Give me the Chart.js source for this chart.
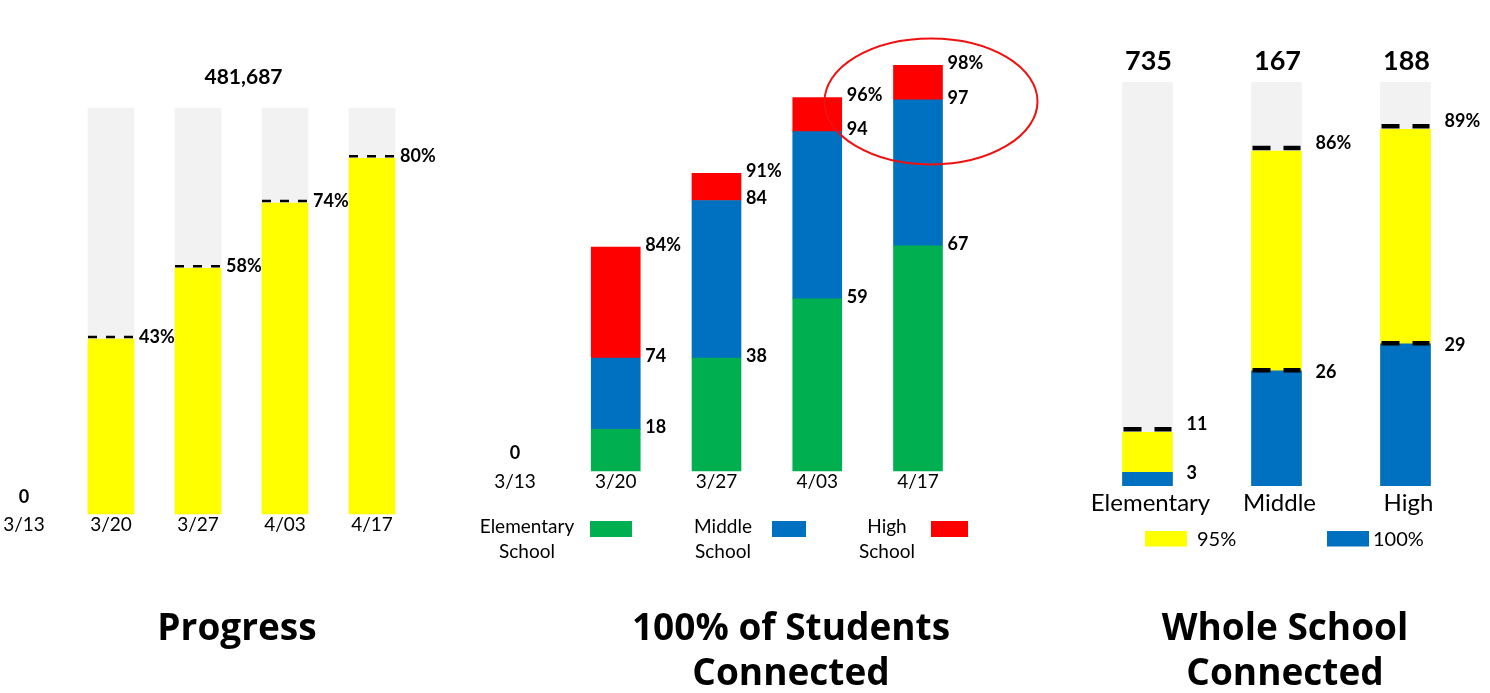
<!DOCTYPE html>
<html>
<head>
<meta charset="utf-8">
<script src="https://cdn.jsdelivr.net/npm/chart.js@4.4.1/dist/chart.umd.min.js"></script>
<style>
  html, body { margin: 0; padding: 0; background: #fff; }
  body { width: 1490px; height: 693px; position: relative; overflow: hidden; }
  canvas.layer { position: absolute; left: 0; top: 0; }
  .title {
    position: absolute; top: 603px; width: 400px; text-align: center;
    font-family: "Open Sans", sans-serif; font-weight: 700; font-size: 37px;
    line-height: 45px; color: #000;
  }
</style>
</head>
<body>
<canvas id="progress" class="layer" width="1490" height="693"></canvas>
<canvas id="students" class="layer" width="1490" height="693"></canvas>
<canvas id="school" class="layer" width="1490" height="693"></canvas>
<div class="title" style="left:37px">Progress</div>
<div class="title" style="left:591px">100% of Students<br>Connected</div>
<div class="title" style="left:1085px">Whole School<br>Connected</div>
<script>
// Progress
const progressDates = ["3/13", "3/20", "3/27", "4/03", "4/17"];
const progressPct = [0, 43, 58, 74, 80];
const progressBar = [0, 43.1, 60.5, 76.6, 87.6]; // bar height as drawn, % of the grey column
const progressTrack = [0, 100, 100, 100, 100];
const progressTotal = "481,687";

// 100% of Students Connected (segment heights as drawn, % of plot height)
const weekDates = ["3/13", "3/20", "3/27", "4/03", "4/17"];
const elementary = [0, 9.9, 26.9, 41.0, 53.6];
const middle = [0, 17.0, 37.5, 39.8, 34.8];
const high = [0, 26.4, 6.5, 8.1, 8.2];
const elementaryLabels = ["0", "18", "38", "59", "67"];
const middleLabels = ["", "74", "84", "94", "97"];
const highLabels = ["", "84%", "91%", "96%", "98%"];

// Whole School Connected
const levels = ["Elementary", "Middle", "High"];
const schoolCounts = [735, 167, 188];
const schoolTrack = [100, 100, 100];
const school95 = [13.3, 82.9, 88.3];
const school100 = [3.4, 28.5, 35.2];
const labels95 = ["11", "86%", "89%"];
const labels100 = ["3", "26", "29"];

const GREY = "#f2f2f2", YELLOW = "#ffff00", GREEN = "#00b050", BLUE = "#0070c0", RED = "#ff0000";

function font(size, weight) {
    return (weight || "normal") + " " + size + "px Lato, sans-serif";
}

// zero bars would still show as a hairline, so paint them transparent
function fillNonZero(color) {
    return (c) => (c.raw ? color : "rgba(0,0,0,0)");
}

function text(ctx, str, x, y, f, align) {
    ctx.font = f;
    ctx.fillStyle = "#000";
    ctx.textAlign = align || "left";
    ctx.textBaseline = "middle";
    ctx.fillText(str, x, y);
}

function dash(ctx, x1, x2, y, width, pattern) {
    ctx.save();
    ctx.beginPath();
    ctx.setLineDash(pattern);
    ctx.lineWidth = width;
    ctx.strokeStyle = "#000";
    ctx.moveTo(x1, y);
    ctx.lineTo(x2, y);
    ctx.stroke();
    ctx.restore();
}

function baseOptions(padding, offset, stacked) {
    return {
        responsive: false,
        animation: false,
        events: [],
        layout: { padding: padding },
        plugins: { legend: { display: false }, tooltip: { enabled: false } },
        scales: {
            x: { display: false, offset: offset, stacked: stacked },
            y: { display: false, min: 0, max: 100, stacked: stacked },
        },
    };
}

// ---------- Progress ----------
const progressPlugin = {
    id: "progressLabels",
    afterDatasetsDraw(chart) {
        const { ctx, scales: { x, y } } = chart;
        const bars = chart.getDatasetMeta(1).data;
        ctx.save();
        bars.forEach((bar, i) => {
            const cx = x.getPixelForValue(i);
            if (progressPct[i] === 0) {
                text(ctx, "0", cx, y.bottom - 17, font(18, "bold"), "center");
            } else {
                const right = bar.x + bar.width / 2;
                const top = bar.y - 2;
                dash(ctx, bar.x - bar.width / 2, right + 2, top, 2.5, [9, 9]);
                text(ctx, progressPct[i] + "%", right + 5, top, font(18, "bold"));
            }
            text(ctx, progressDates[i], cx, y.bottom + 11, font(19), "center");
        });
        const mid = (x.getPixelForValue(2) + x.getPixelForValue(3)) / 2;
        text(ctx, progressTotal, mid + 2, y.top - 31, font(21, "bold"), "center");
        ctx.restore();
    },
};

new Chart(document.getElementById("progress"), {
    type: "bar",
    data: {
        labels: progressDates,
        datasets: [
            { label: "Total", data: progressTrack, backgroundColor: fillNonZero(GREY), order: 2 },
            { label: "Connected", data: progressBar, backgroundColor: fillNonZero(YELLOW), order: 1 },
        ],
    },
    options: Object.assign(baseOptions({ left: 24, right: 1118, top: 108, bottom: 179 }, false, false), {
        datasets: { bar: { barThickness: 46, grouped: false, clip: false } },
    }),
    plugins: [progressPlugin],
});

// ---------- 100% of Students Connected ----------
const studentColors = [GREEN, BLUE, RED];

const studentsPlugin = {
    id: "studentsLabels",
    afterDatasetsDraw(chart) {
        const { ctx, scales: { x, y } } = chart;
        const metas = [0, 1, 2].map((d) => chart.getDatasetMeta(d).data);
        const texts = [elementaryLabels, middleLabels, highLabels];
        ctx.save();
        weekDates.forEach((d, i) => {
            const cx = x.getPixelForValue(i);
            if (elementary[i] + middle[i] + high[i] === 0) {
                text(ctx, elementaryLabels[i], cx, y.bottom - 18, font(18, "bold"), "center");
            } else {
                metas.forEach((bars, k) => {
                    const bar = bars[i];
                    text(ctx, texts[k][i], bar.x + bar.width / 2 + 5, bar.y - 2, font(18, "bold"));
                });
            }
            text(ctx, d, cx, y.bottom + 11, font(19), "center");
        });

        // legend: two-line label, swatch to the right
        const slots = [{ tx: 527, bx: 590, bw: 42 }, { tx: 723, bx: 772, bw: 34 }, { tx: 887, bx: 931, bw: 37 }];
        chart.data.datasets.forEach((ds, k) => {
            const s = slots[k];
            const words = ds.label.split(" ");
            text(ctx, words[0], s.tx, 527, font(19), "center");
            text(ctx, words[1], s.tx, 552, font(19), "center");
            ctx.fillStyle = studentColors[k];
            ctx.fillRect(s.bx, 521, s.bw, 16);
        });

        // highlight ring around the latest two weeks
        ctx.beginPath();
        ctx.strokeStyle = "#f01010";
        ctx.lineWidth = 2;
        ctx.ellipse(x.getPixelForValue(4) + 13, y.getPixelForValue(88), 106.5, 63, 0, 0, Math.PI * 2);
        ctx.stroke();
        ctx.restore();
    },
};

new Chart(document.getElementById("students"), {
    type: "bar",
    data: {
        labels: weekDates,
        datasets: [
            { label: "Elementary School", data: elementary, backgroundColor: fillNonZero(GREEN) },
            { label: "Middle School", data: middle, backgroundColor: fillNonZero(BLUE) },
            { label: "High School", data: high, backgroundColor: fillNonZero(RED) },
        ],
    },
    options: Object.assign(baseOptions({ left: 515, right: 572, top: 51, bottom: 222 }, false, true), {
        datasets: { bar: { barThickness: 49, clip: false } },
    }),
    plugins: [studentsPlugin],
});

// ---------- Whole School Connected ----------
const schoolPlugin = {
    id: "schoolLabels",
    afterDatasetsDraw(chart) {
        const { ctx, scales: { y } } = chart;
        const grey = chart.getDatasetMeta(0).data;
        const yellow = chart.getDatasetMeta(1).data;
        const blue = chart.getDatasetMeta(2).data;
        ctx.save();
        levels.forEach((lv, i) => {
            const left = grey[i].x - grey[i].width / 2;
            const right = grey[i].x + grey[i].width / 2;
            text(ctx, String(schoolCounts[i]), grey[i].x + 1, grey[i].y - 21, font(27, "bold"), "center");

            const yTop = yellow[i].y - 3;
            dash(ctx, left + 1, right - 1, yTop, 4.5, [18, 13]);
            text(ctx, labels95[i], right + 14, yTop - 5, font(18, "bold"));

            // elementary has no marker on the 100% line
            if (i > 0) dash(ctx, left + 1, right - 1, blue[i].y - 0.5, 4.5, [18, 13]);
            text(ctx, labels100[i], right + 14, blue[i].y + 1, font(18, "bold"));

            text(ctx, lv, grey[i].x + 3, y.bottom + 17, font(24), "center");
        });

        // legend
        const slots = [{ bx: 1145, tx: 1197 }, { bx: 1327, tx: 1373 }];
        [1, 2].forEach((d, k) => {
            const ds = chart.data.datasets[d];
            ctx.fillStyle = ds.backgroundColor;
            ctx.fillRect(slots[k].bx, 531, 42, 15.5);
            text(ctx, ds.label, slots[k].tx, 540, font(20));
        });
        ctx.restore();
    },
};

new Chart(document.getElementById("school"), {
    type: "bar",
    data: {
        labels: levels,
        datasets: [
            { label: "Total", data: schoolTrack, backgroundColor: GREY, order: 3 },
            { label: "95%", data: school95, backgroundColor: YELLOW, order: 2 },
            { label: "100%", data: school100, backgroundColor: BLUE, order: 1 },
        ],
    },
    options: Object.assign(baseOptions({ left: 1083, right: 20, top: 82, bottom: 207 }, true, false), {
        datasets: { bar: { barThickness: 50, grouped: false } },
    }),
    plugins: [schoolPlugin],
});
</script>
</body>
</html>
